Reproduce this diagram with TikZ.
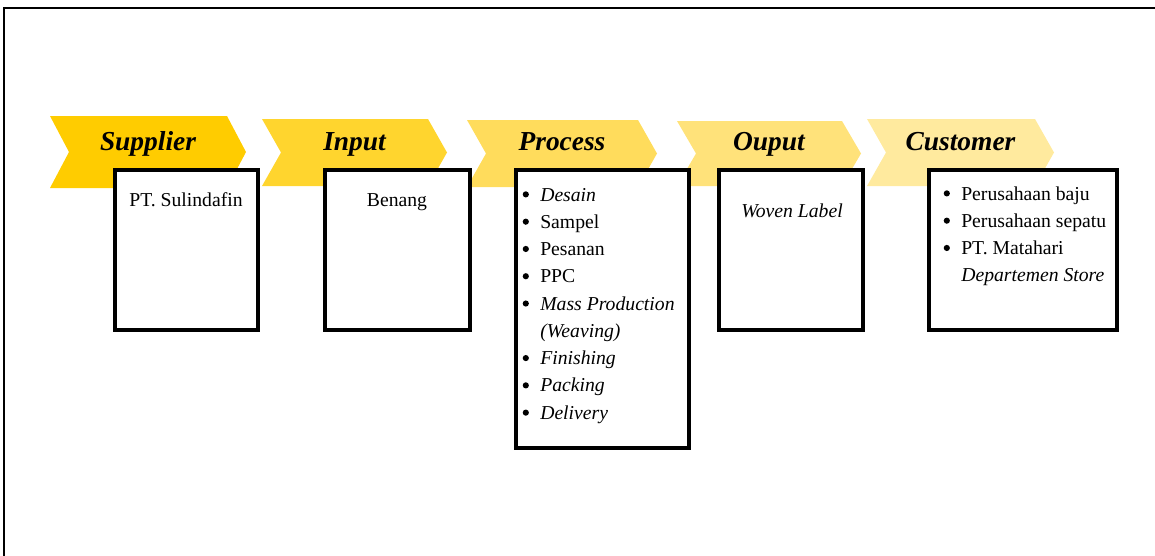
\documentclass[tikz,border=0pt]{standalone}
\usepackage{fontspec}
\setmainfont{Liberation Serif}
\usetikzlibrary{positioning}

\definecolor{chevA}{HTML}{FFCC00}
\definecolor{chevB}{HTML}{FFD52E}
\definecolor{chevC}{HTML}{FFDC5C}
\definecolor{chevD}{HTML}{FFE27A}
\definecolor{chevE}{HTML}{FFEA9E}

\newcommand{\blt}{\makebox[12.8pt][l]{\hspace{0.3pt}\tikz[baseline=-4.7pt]\fill (0,0) circle (2.2pt);}}

\begin{document}
\begin{tikzpicture}[x=0.025cm,y=-0.025cm]
\tikzstyle{stage}=[font=\fontsize{19.5}{23}\selectfont\bfseries\itshape, inner sep=0, anchor=base]
\tikzstyle{box}=[draw=black, fill=white, line width=2.8pt, inner sep=0, outer sep=0, anchor=north west]
\tikzstyle{entry}=[font=\fontsize{14}{19.4}\selectfont, inner sep=0]

\useasboundingbox (0,0) rectangle (1155,555);
\draw[line width=1.4pt] (4,560) -- (4,8) -- (1160,8);

% stage arrows
\foreach \l/\r/\t/\b/\c/\n/\txt in {50/227/116/188/chevA/sup/Supplier,
    262/428/119/186/chevB/inp/Input, 467/638/120/187/chevC/pro/Process,
    677/842/121/186/chevD/out/Ouput, 867/1035/119/186/chevE/cus/Customer}{
  \fill[\c] (\l,\t) -- (\r,\t) -- ({\r+19},{(\t+\b)/2}) -- (\r,\b)
    -- (\l,\b) -- ({\l+19},{(\t+\b)/2}) -- cycle;
  \node[stage] (\n) at ({(\l+\r+19)/2},150) {\txt};
}

% boxes
\node[box, minimum width=3.575cm, minimum height=4cm] (supbox) at (115,170) {};
\node[box, minimum width=3.625cm, minimum height=4cm] (inpbox) at (325,170) {};
\node[box, minimum width=4.325cm, minimum height=6.95cm] (probox) at (516,170) {};
\node[box, minimum width=3.6cm, minimum height=4cm] (outbox) at (719,170) {};
\node[box, minimum width=4.7cm, minimum height=4cm] (cusbox) at (929,170) {};

% contents
\node[entry, anchor=base] (supt) at (186,206) {PT. Sulindafin};
\node[entry, anchor=base] (inpt) at (397,206) {Benang};
\node[entry, anchor=base west] (prot) at (522,201) {%
  \begin{tabular}[t]{@{}l@{}}
  \blt\textit{Desain}\\
  \blt Sampel\\
  \blt Pesanan\\
  \blt PPC\\
  \blt\textit{Mass Production}\\
  \hphantom{\blt}\textit{(Weaving)}\\
  \blt\textit{Finishing}\\
  \blt\textit{Packing}\\
  \blt\textit{Delivery}
  \end{tabular}};
\node[entry, anchor=base] (outt) at (792,217) {\textit{Woven Label}};
\node[entry, anchor=base west] (cust) at (943,200) {%
  \begin{tabular}[t]{@{}l@{}}
  \blt Perusahaan baju\\
  \blt Perusahaan sepatu\\
  \blt PT. Matahari\\
  \hphantom{\blt}\textit{Departemen Store}
  \end{tabular}};
\end{tikzpicture}
\end{document}
